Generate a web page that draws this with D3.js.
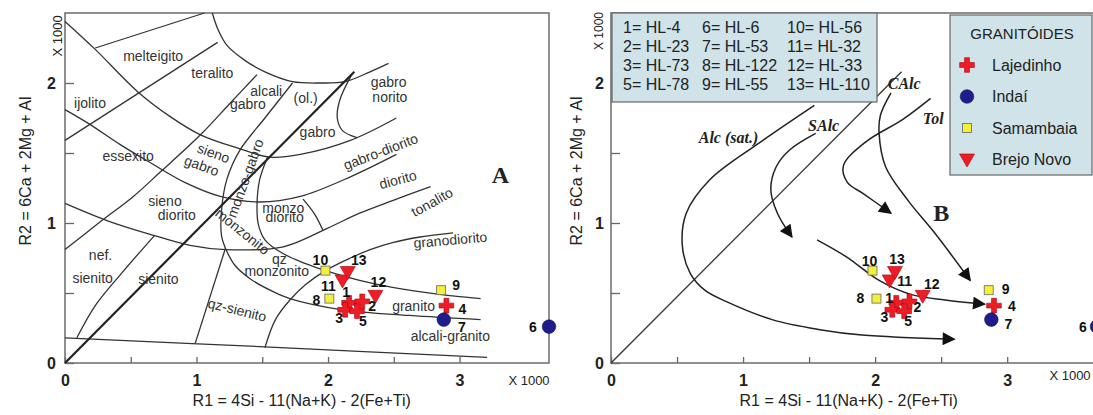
<!DOCTYPE html>
<html>
<head>
<meta charset="utf-8">
<script src="https://cdn.jsdelivr.net/npm/d3@7"></script>
<style>
  body { margin: 0; background: #fff; }
  svg text { font-family: Arial, "Liberation Sans", sans-serif; }
</style>
</head>
<body>
<svg id="chart" width="1093" height="415"></svg>
<script>
// samples (R1, R2 in thousands)
const sampleId = [1, 2, 3, 4, 5, 6, 7, 8, 9, 10, 11, 12, 13];
const sampleR1 = [2.16, 2.26, 2.13, 2.90, 2.22, 3.68, 2.88, 2.01, 2.86, 1.98, 2.11, 2.36, 2.15];
const sampleR2 = [0.43, 0.44, 0.38, 0.41, 0.37, 0.26, 0.31, 0.46, 0.52, 0.66, 0.59, 0.48, 0.65];
const sampleGroup = ["Lajedinho", "Lajedinho", "Lajedinho", "Lajedinho", "Lajedinho",
  "Indaí", "Indaí", "Samambaia", "Samambaia", "Samambaia",
  "Brejo Novo", "Brejo Novo", "Brejo Novo"];

const groups = ["Lajedinho", "Indaí", "Samambaia", "Brejo Novo"];
const codeNum = ["1", "2", "3", "5", "6", "7", "8", "9", "10", "11", "12", "13"];
const codeName = ["HL-4", "HL-23", "HL-73", "HL-78", "HL-6", "HL-53", "HL-122", "HL-55",
  "HL-56", "HL-32", "HL-33", "HL-110"];

const xTicks = [0, 0.5, 1, 1.5, 2, 2.5, 3];
const yTicks = [0, 0.5, 1, 1.5, 2];

// De La Roche field boundaries (panel A)
const bLine1 = [[0.23, 2.25], [1.06, 2.5]];
const bLine2 = [[0, 2.44], [0.23, 2.24], [0.55, 1.94], [0.8, 1.76], [1.03, 1.63], [1.33, 1.53], [1.56, 1.47], [1.79, 1.49], [2.17, 1.59], [2.52, 1.75]];
const bLine3 = [[1.12, 2.5], [1.16, 2.39], [1.23, 2.27], [1.37, 2.16], [1.52, 2.08], [1.73, 2.01], [1.94, 2.0], [2.13, 2.01], [2.32, 2.08], [2.46, 2.14]];
const bLine4 = [[0, 1.59], [1.16, 2.29]];
const bLine5 = [[0, 1.81], [0.18, 1.71], [0.42, 1.56], [0.65, 1.43], [0.91, 1.29], [1.18, 1.19], [1.48, 1.15], [1.79, 1.19], [2.17, 1.33], [2.52, 1.49]];
const bLine6 = [[0, 0.81], [0.27, 1.01], [0.52, 1.19], [0.72, 1.36], [1.03, 1.63], [1.25, 1.85], [1.46, 2.06]];
const bLine7 = [[1.73, 2.0], [1.52, 1.75], [1.33, 1.52], [1.23, 1.31], [1.19, 1.09], [1.19, 0.91], [1.22, 0.82]];
const bLine8 = [[1.22, 0.82], [1.29, 0.7], [1.41, 0.6], [1.56, 0.52], [1.71, 0.46], [2.11, 0.38], [2.62, 0.34], [3.16, 0.31]];
const bLine9 = [[1.22, 0.82], [0.99, 0.14]];
const bLine10 = [[0, 1.14], [0.34, 1.01], [0.68, 0.91], [0.95, 0.84], [1.22, 0.81], [1.66, 0.83], [1.99, 0.96], [2.24, 1.07], [2.49, 1.16], [2.78, 1.26]];
const bLine11 = [[1.54, 1.47], [1.48, 1.31], [1.46, 1.13], [1.47, 0.99], [1.52, 0.88], [1.66, 0.78], [1.83, 0.71], [1.98, 0.66], [2.24, 0.59], [2.49, 0.54], [2.85, 0.49], [3.16, 0.46]];
const bLine12 = [[1.81, 1.17], [1.9, 1.06], [1.96, 0.95]];
const bLine13 = [[1.52, 0.11], [1.6, 0.31], [1.71, 0.45], [1.83, 0.56], [1.98, 0.66], [2.17, 0.75], [2.32, 0.81], [2.49, 0.86], [2.7, 0.9], [2.95, 0.93]];
const bLine14 = [[0.68, 0.91], [0.42, 0.63], [0.23, 0.41], [0.09, 0.18]];
const bLine15 = [[0, 0.18], [1.64, 0.11], [3.21, 0.04]];
const bLine16 = [[2.18, 2.06], [2.09, 1.88], [2.07, 1.75], [2.11, 1.66], [2.22, 1.61]];
const saturationLine = [[0, 0], [2.2, 2.08]];

// magmatic trends (panel B)
const trendAlc = [[1.54, 1.84], [1.12, 1.57], [0.75, 1.31], [0.57, 1.07], [0.54, 0.84], [0.6, 0.64], [0.71, 0.52], [0.87, 0.44], [1.22, 0.31], [1.57, 0.24], [1.9, 0.2], [2.6, 0.17]];
const trendSAlc = [[1.55, 1.64], [1.35, 1.52], [1.25, 1.4], [1.21, 1.24], [1.26, 1.07], [1.37, 0.9]];
const trendCAlc = [[2.12, 1.93], [2.04, 1.77], [2.03, 1.64], [2.08, 1.4], [2.25, 1.16], [2.45, 0.93], [2.72, 0.59]];
const trendTol = [[2.42, 1.89], [2.21, 1.74], [1.93, 1.58], [1.76, 1.41], [1.79, 1.29], [1.91, 1.21], [2.12, 1.07]];
const trendMid = [[1.56, 0.88], [1.78, 0.76], [2.03, 0.59], [2.27, 0.49], [2.53, 0.45], [2.83, 0.42]];

// field names: text, R1, R2, rotation
const fieldNames = [
  ["melteigito", 0.67, 2.19, 0], ["teralito", 1.12, 2.07, 0],
  ["alcali", 1.53, 1.94, 0], ["gabro", 1.39, 1.85, 0], ["(ol.)", 1.83, 1.89, 0],
  ["gabro", 2.46, 2.01, 0], ["norito", 2.47, 1.9, 0], ["ijolito", 0.19, 1.86, 0],
  ["gabro", 1.92, 1.65, 0], ["essexito", 0.48, 1.48, 0],
  ["sieno", 1.13, 1.5, 20], ["gabro", 1.04, 1.41, 20],
  ["gabro-diorito", 2.4, 1.51, -21], ["monzo-gabro", 1.37, 1.32, -70],
  ["diorito", 2.53, 1.31, -15], ["sieno", 0.76, 1.16, 0], ["diorito", 0.85, 1.06, 0],
  ["monzo", 1.66, 1.11, 0], ["diorito", 1.67, 1.04, 0], ["tonalito", 2.79, 1.15, -29],
  ["monzonito", 1.35, 0.94, 39], ["granodiorito", 2.93, 0.88, -5],
  ["nef.", 0.27, 0.77, 0], ["sienito", 0.21, 0.61, 0], ["sienito", 0.71, 0.6, 0],
  ["qz", 1.63, 0.74, 0], ["monzonito", 1.61, 0.66, 0], ["granito", 2.65, 0.41, 0],
  ["qz-sienito", 1.31, 0.38, 14], ["alcali-granito", 2.93, 0.19, 0]
];
const trendNames = [["Alc (sat.)", 0.89, 1.61], ["SAlc", 1.61, 1.7], ["CAlc", 2.22, 2.0], ["Tol", 2.44, 1.75]];

// label offsets (px) for sample numbers
const offA = [[-3, -11], [10, 5], [-6, 8], [16, 3], [6, 10], [-16, 0], [18, 7], [-13, 1], [15, -5], [-5, -11], [-14, 6], [3, -14], [11, -12]];
const offB = [[-7, -5], [8, 6], [-8, 7], [18, 0], [4, 10], [-14, 0], [17, 4], [-16, -1], [17, -1], [-3, -10], [15, 1], [9, -12], [2, -13]];

const svg = d3.select("#chart");
const defs = svg.append("defs");
defs.append("marker").attr("id", "arrow")
  .attr("viewBox", "0 0 10 10").attr("refX", 9).attr("refY", 5)
  .attr("markerWidth", 14).attr("markerHeight", 13)
  .attr("markerUnits", "userSpaceOnUse").attr("orient", "auto")
  .append("path").attr("d", "M0,0L10,5L0,10z").attr("fill", "#111");

function marker(g, group, cx, cy) {
  if (group === "Lajedinho") {
    g.append("path").attr("d", d3.symbol(d3.symbolCross, 120)())
      .attr("transform", `translate(${cx},${cy})`)
      .attr("fill", "#ee1c24").attr("stroke", "#b00010").attr("stroke-width", 0.6);
  } else if (group === "Indaí") {
    g.append("circle").attr("cx", cx).attr("cy", cy).attr("r", 6.8)
      .attr("fill", "#1f1d8c").attr("stroke", "#141060").attr("stroke-width", 0.6);
  } else if (group === "Samambaia") {
    g.append("rect").attr("x", cx - 4.5).attr("y", cy - 4.5).attr("width", 9).attr("height", 9)
      .attr("fill", "#f3ef3c").attr("stroke", "#666").attr("stroke-width", 0.8);
  } else {
    g.append("path").attr("d", "M-7.5,-5.5L7.5,-5.5L0,7.5Z")
      .attr("transform", `translate(${cx},${cy})`)
      .attr("fill", "#ee1c24").attr("stroke", "#b00010").attr("stroke-width", 0.6);
  }
}

function panel(left, right, yLabelX, labelPad) {
  const g = svg.append("g");
  const x = d3.scaleLinear().domain([0, 3.68]).range([left, right]);
  const y = d3.scaleLinear().domain([0, 2.5]).range([363, 13]);

  const xa = g.append("g").attr("transform", "translate(0,363)")
    .call(d3.axisBottom(x).tickValues(xTicks).tickSizeInner(-6).tickSizeOuter(0).tickPadding(12)
      .tickFormat(d => Number.isInteger(d) ? d : ""));
  const ya = g.append("g").attr("transform", `translate(${left},0)`)
    .call(d3.axisLeft(y).tickValues(yTicks).tickSizeInner(-9).tickSizeOuter(0).tickPadding(labelPad)
      .tickFormat(d => Number.isInteger(d) ? d : ""));
  [xa, ya].forEach(a => {
    a.select(".domain").remove();
    a.selectAll(".tick line").attr("stroke", "#666").attr("stroke-width", 1.3);
    a.selectAll(".tick text").attr("fill", "#222").style("font-size", "16px").style("font-weight", "bold");
  });

  g.append("rect").attr("x", left).attr("y", 13).attr("width", right - left).attr("height", 350)
    .attr("fill", "none").attr("stroke", "#6b6b6b").attr("stroke-width", 1.5);

  g.append("text").attr("transform", `translate(${yLabelX},171) rotate(-90)`)
    .attr("text-anchor", "middle").attr("fill", "#222").style("font-size", "16px")
    .text("R2 = 6Ca + 2Mg + Al");
  g.append("text").attr("x", x(1.8)).attr("y", 406)
    .attr("text-anchor", "middle").attr("fill", "#222").style("font-size", "16px")
    .text("R1 = 4Si - 11(Na+K) - 2(Fe+Ti)");
  return { g, x, y };
}

const line = (x, y) => d3.line().x(d => x(d[0])).y(d => y(d[1])).curve(d3.curveCatmullRom.alpha(0.5));

function samples(p, off) {
  sampleId.forEach((id, i) => {
    marker(p.g, sampleGroup[i], p.x(sampleR1[i]), p.y(sampleR2[i]));
  });
  sampleId.forEach((id, i) => {
    p.g.append("text").attr("x", p.x(sampleR1[i]) + off[i][0]).attr("y", p.y(sampleR2[i]) + off[i][1])
      .attr("text-anchor", "middle").attr("dominant-baseline", "central")
      .attr("fill", "#111").style("font-size", "14px").style("font-weight", "bold").text(id);
  });
}

// ---------- panel A ----------
const A = panel(65, 549, 31, 9);
const lA = line(A.x, A.y);
[bLine1, bLine2, bLine3, bLine4, bLine5, bLine6, bLine7, bLine8, bLine9, bLine10,
  bLine11, bLine12, bLine13, bLine14, bLine15, bLine16].forEach(b => {
  A.g.append("path").attr("d", lA(b)).attr("fill", "none").attr("stroke", "#333").attr("stroke-width", 1.3);
});
A.g.append("path").attr("d", lA(saturationLine)).attr("fill", "none").attr("stroke", "#222").attr("stroke-width", 2.2);

fieldNames.forEach(f => {
  A.g.append("text").attr("transform", `translate(${A.x(f[1])},${A.y(f[2])}) rotate(${f[3]})`)
    .attr("text-anchor", "middle").attr("dominant-baseline", "central")
    .attr("fill", "#333").style("font-size", "14px").text(f[0]);
});
A.g.append("text").attr("x", A.x(3.31)).attr("y", A.y(1.34)).attr("text-anchor", "middle")
  .attr("dominant-baseline", "central").attr("fill", "#222")
  .style("font-family", "'Liberation Serif', 'Times New Roman', serif")
  .style("font-size", "24px").style("font-weight", "bold").text("A");
A.g.append("text").attr("transform", "translate(62,36) rotate(-90)").attr("text-anchor", "middle")
  .attr("fill", "#222").style("font-size", "13px").text("X 1000");
A.g.append("text").attr("x", 529).attr("y", 385).attr("text-anchor", "middle")
  .attr("fill", "#222").style("font-size", "13px").text("X 1000");
samples(A, offA);

// ---------- panel B ----------
const B = panel(611, 1097, 582, 7);
const lB = line(B.x, B.y);
B.g.append("path").attr("d", lB(saturationLine)).attr("fill", "none").attr("stroke", "#333").attr("stroke-width", 1.3);
[trendAlc, trendSAlc, trendCAlc, trendTol, trendMid].forEach(t => {
  B.g.append("path").attr("d", lB(t)).attr("fill", "none").attr("stroke", "#222")
    .attr("stroke-width", 1.5).attr("marker-end", "url(#arrow)");
});
trendNames.forEach(t => {
  B.g.append("text").attr("x", B.x(t[1])).attr("y", B.y(t[2])).attr("text-anchor", "middle")
    .attr("dominant-baseline", "central").attr("fill", "#222")
    .style("font-family", "'Liberation Serif', 'Times New Roman', serif")
    .style("font-size", "16px").style("font-weight", "bold").style("font-style", "italic").text(t[0]);
});
B.g.append("text").attr("x", B.x(2.5)).attr("y", B.y(1.07)).attr("text-anchor", "middle")
  .attr("dominant-baseline", "central").attr("fill", "#222")
  .style("font-family", "'Liberation Serif', 'Times New Roman', serif")
  .style("font-size", "24px").style("font-weight", "bold").text("B");
B.g.append("text").attr("transform", "translate(603,31) rotate(-90)").attr("text-anchor", "middle")
  .attr("fill", "#222").style("font-size", "12px").text("X 1000");
B.g.append("text").attr("x", 1070).attr("y", 380).attr("text-anchor", "middle")
  .attr("fill", "#222").style("font-size", "13px").text("X 1000");
samples(B, offB);

// sample code legend
const leg1 = svg.append("g");
leg1.append("rect").attr("x", 612).attr("y", 13).attr("width", 265).attr("height", 89)
  .attr("fill", "#cfe3e8").attr("stroke", "#666").attr("stroke-width", 1.2);
const colX = [623, 702, 787];
codeNum.forEach((n, i) => {
  leg1.append("text").attr("x", colX[Math.floor(i / 4)]).attr("y", 33 + (i % 4) * 19)
    .attr("fill", "#222").style("font-size", "16px").text(`${n}= ${codeName[i]}`);
});

// group legend
const leg2 = svg.append("g");
leg2.append("rect").attr("x", 950).attr("y", 15).attr("width", 142).attr("height", 160)
  .attr("fill", "#cfe3e8").attr("stroke", "#666").attr("stroke-width", 1.2);
leg2.append("text").attr("x", 1022).attr("y", 39).attr("text-anchor", "middle")
  .attr("fill", "#222").style("font-size", "15px").text("GRANITÓIDES");
groups.forEach((grp, i) => {
  const cy = 65 + i * 31.5;
  marker(leg2, grp, 967, cy);
  leg2.append("text").attr("x", 992).attr("y", cy + 5.5).attr("fill", "#222")
    .style("font-size", "16px").text(grp);
});
</script>
</body>
</html>
